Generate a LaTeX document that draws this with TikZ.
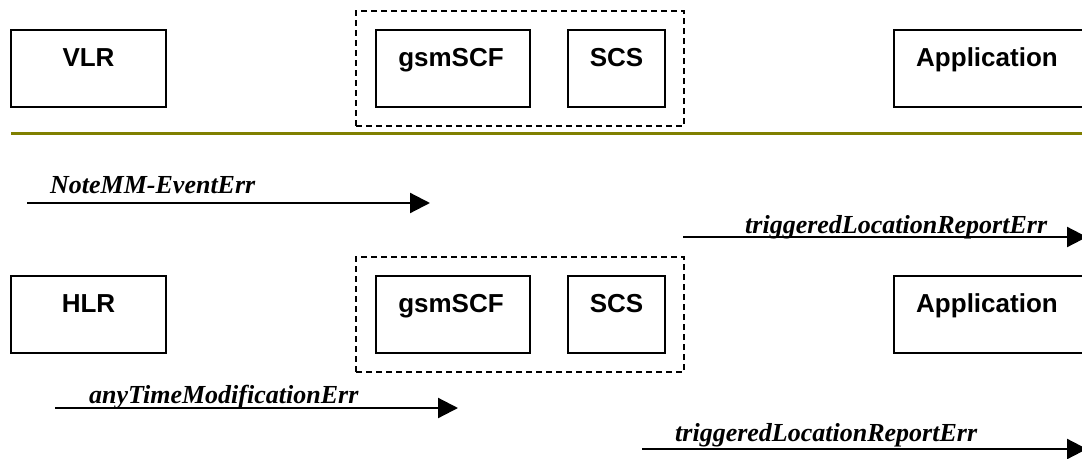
\documentclass[tikz,border=0pt]{standalone}
\usepackage{fontspec}
\setmainfont{Liberation Serif}
\newfontfamily\arialfont{Liberation Sans}
\usetikzlibrary{arrows.meta}
\definecolor{olivebar}{HTML}{808000}
\tikzset{
  entity/.style={draw=black, line width=2pt, rectangle, inner sep=0pt},
  entlabel/.style={anchor=base, inner sep=0pt, font=\arialfont\bfseries\fontsize{26}{30}\selectfont},
  grp/.style={draw=black, line width=2pt, dash pattern=on 6pt off 4pt, rectangle, inner sep=0pt},
  msg/.style={line width=2.2pt, -{Triangle[length=20pt,width=20pt]}},
  msglabel/.style={anchor=base west, inner sep=0pt, font=\bfseries\itshape\fontsize{26}{30}\selectfont},
  sep/.style={draw=olivebar, line width=3pt}
}
\begin{document}
\begin{tikzpicture}[x=1pt,y=-1pt]
\useasboundingbox (0,0) rectangle (1082,458);
% ---------- top row ----------
\node[grp, minimum width=328pt, minimum height=115pt] (grpA) at (520,68.5) {};
\node[entity, minimum width=155pt, minimum height=77pt] (vlr) at (88.5,68.5) {};
\node[entity, minimum width=154pt, minimum height=77pt] (scfA) at (453,68.5) {};
\node[entity, minimum width=97pt, minimum height=77pt] (scsA) at (616.5,68.5) {};
\node[entity, minimum width=210pt, minimum height=77pt] (appA) at (999,68.5) {};
\node[entlabel] (vlrT) at (88.5,66) {VLR};
\node[entlabel] (scfAT) at (451,66) {gsmSCF};
\node[entlabel] (scsAT) at (616.5,66) {SCS};
\node[entlabel, anchor=base west] (appAT) at (916,66) {Application};
% separator
\coordinate (sepL) at (11,133);
\coordinate (sepR) at (1085,133);
\draw[sep] (sepL) -- (sepR);
% messages
\coordinate (m1s) at (27,203);
\coordinate (m1e) at (430,203);
\draw[msg] (m1s) -- (m1e);
\node[msglabel] (m1l) at (50,193) {NoteMM-EventErr};
\coordinate (m2s) at (683,237);
\coordinate (m2e) at (1087,237);
\draw[msg] (m2s) -- (m2e);
\node[msglabel] (m2l) at (745,233) {triggeredLocationReportErr};
% ---------- bottom row ----------
\node[grp, minimum width=328pt, minimum height=115pt] (grpB) at (520,314.5) {};
\node[entity, minimum width=155pt, minimum height=77pt] (hlr) at (88.5,314.5) {};
\node[entity, minimum width=154pt, minimum height=77pt] (scfB) at (453,314.5) {};
\node[entity, minimum width=97pt, minimum height=77pt] (scsB) at (616.5,314.5) {};
\node[entity, minimum width=210pt, minimum height=77pt] (appB) at (999,314.5) {};
\node[entlabel] (hlrT) at (88.5,312) {HLR};
\node[entlabel] (scfBT) at (451,312) {gsmSCF};
\node[entlabel] (scsBT) at (616.5,312) {SCS};
\node[entlabel, anchor=base west] (appBT) at (916,312) {Application};
\coordinate (m3s) at (55,408);
\coordinate (m3e) at (458,408);
\draw[msg] (m3s) -- (m3e);
\node[msglabel] (m3l) at (89,403) {anyTimeModificationErr};
\coordinate (m4s) at (642,449);
\coordinate (m4e) at (1087,449);
\draw[msg] (m4s) -- (m4e);
\node[msglabel] (m4l) at (675,441) {triggeredLocationReportErr};
\end{tikzpicture}
\end{document}
